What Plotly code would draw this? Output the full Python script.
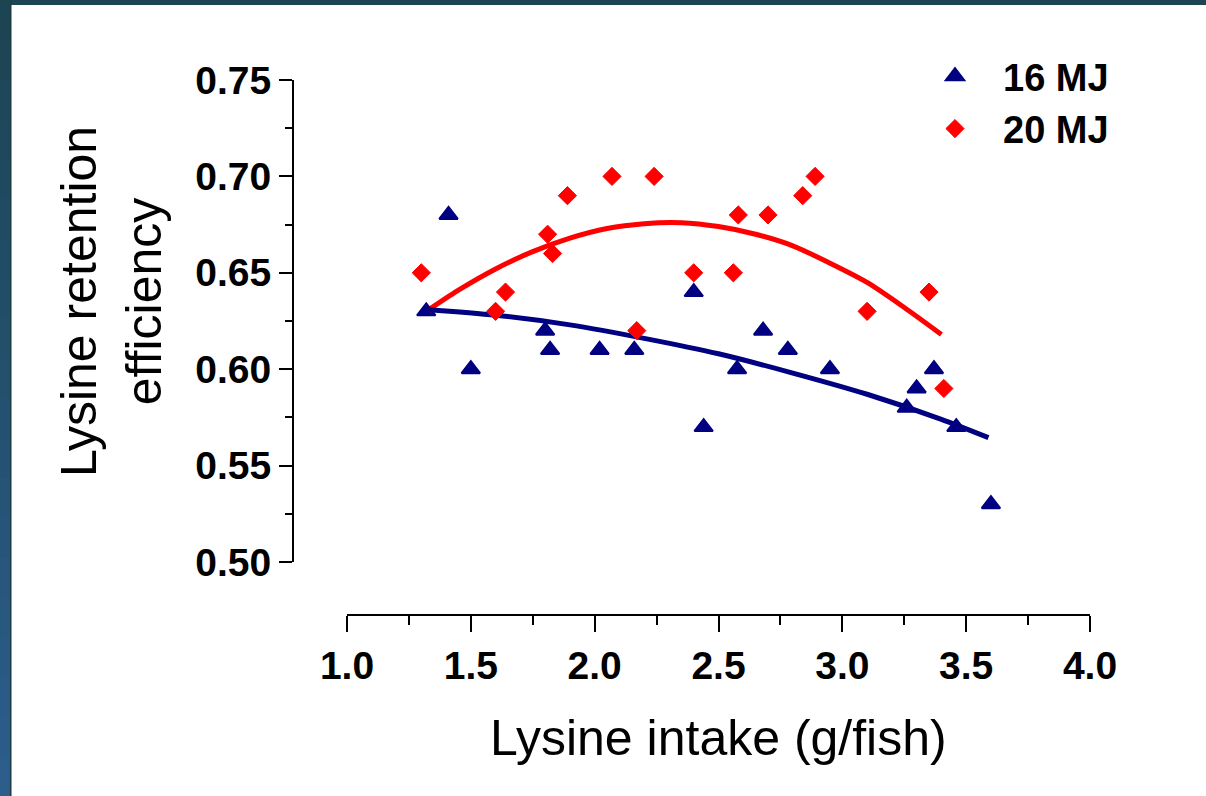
import plotly.graph_objects as go

# ---- data ----
x_16 = [1.32, 1.41, 1.50, 1.80, 1.82, 2.02, 2.16, 2.40, 2.44, 2.575, 2.68, 2.78, 2.95, 3.26, 3.30, 3.37, 3.46, 3.60]
y_16 = [0.63, 0.68, 0.60, 0.62, 0.61, 0.61, 0.61, 0.64, 0.57, 0.60, 0.62, 0.61, 0.60, 0.58, 0.59, 0.60, 0.57, 0.53]
x_20 = [1.30, 1.60, 1.64, 1.81, 1.83, 1.89, 2.07, 2.17, 2.24, 2.40, 2.56, 2.58, 2.70, 2.84, 2.89, 3.10, 3.35, 3.41]
y_20 = [0.65, 0.63, 0.64, 0.67, 0.66, 0.69, 0.70, 0.62, 0.70, 0.65, 0.65, 0.68, 0.68, 0.69, 0.70, 0.63, 0.64, 0.59]

# fitted curves
fit_x_16 = [1.32, 1.60, 1.90, 2.20, 2.50, 2.80, 3.10, 3.40, 3.59]
fit_y_16 = [0.631, 0.628, 0.623, 0.616, 0.608, 0.598, 0.587, 0.574, 0.5645]
fit_x_20 = [1.32, 1.45, 1.60, 1.75, 1.90, 2.05, 2.20, 2.35, 2.50, 2.65, 2.80, 2.95, 3.10, 3.25, 3.40]
fit_y_20 = [0.630, 0.641, 0.652, 0.661, 0.668, 0.673, 0.6755, 0.676, 0.674, 0.670, 0.664, 0.655, 0.645, 0.632, 0.618]

series_names = ["16 MJ", "20 MJ"]
x_title = "Lysine intake (g/fish)"
y_title = "Lysine retention<br>efficiency"

NAVY = "#000080"
RED = "#ff0000"
FONT = "Liberation Sans, Arial, sans-serif"

W, H = 1206, 796
L, R, T, B = 293, 1090, 80, 615  # plot area in pixels
PW, PH = R - L, B - T


def px(p):
    return (p - L) / PW


def py(q):
    return (B - q) / PH


fig = go.Figure()

fig.add_trace(go.Scatter(x=fit_x_20, y=fit_y_20, mode="lines",
                         line=dict(color=RED, width=5, shape="spline", smoothing=0.8),
                         showlegend=False, hoverinfo="skip", cliponaxis=False))
fig.add_trace(go.Scatter(x=fit_x_16, y=fit_y_16, mode="lines",
                         line=dict(color=NAVY, width=5, shape="spline", smoothing=0.8),
                         showlegend=False, hoverinfo="skip", cliponaxis=False))
fig.add_trace(go.Scatter(x=x_16, y=y_16, mode="markers", name=series_names[0],
                         marker=dict(symbol="triangle-up", size=16, color=NAVY,
                                     line=dict(color=NAVY, width=2)), cliponaxis=False))
fig.add_trace(go.Scatter(x=x_20, y=y_20, mode="markers", name=series_names[1],
                         marker=dict(symbol="diamond", size=14, color=RED,
                                     line=dict(color=RED, width=1)), cliponaxis=False))

# slide border (decoration)
shapes = []
shapes.append(dict(type="rect", xref="paper", yref="paper", x0=px(0), x1=px(W), y0=py(5), y1=py(0),
                   fillcolor="#1c4453", line_width=0, layer="below"))
n = 20
c0 = (0x1c, 0x44, 0x53)
c1 = (0x2c, 0x5d, 0x8b)
for i in range(n):
    t = i / (n - 1)
    col = "rgb(%d,%d,%d)" % tuple(round(a + (b - a) * t) for a, b in zip(c0, c1))
    shapes.append(dict(type="rect", xref="paper", yref="paper", x0=px(0), x1=px(10),
                       y0=py(min(H, H * (i + 1) / n + 2)), y1=py(H * i / n),
                       fillcolor=col, line_width=0, layer="below"))
shapes.append(dict(type="rect", xref="paper", yref="paper", x0=px(10), x1=px(11.5), y0=py(H), y1=py(0),
                   fillcolor="#1a3a44", line_width=0, layer="below"))

fig.update_layout(
    width=W, height=H,
    margin=dict(l=L, r=W - R, t=T, b=H - B, pad=0),
    paper_bgcolor="white", plot_bgcolor="white",
    font=dict(family=FONT, color="black"),
    shapes=shapes,
    showlegend=True,
    legend=dict(x=px(907), y=py(45), xanchor="left", yanchor="top",
                font=dict(family=FONT, size=38, color="black", weight="bold"),
                bgcolor="rgba(0,0,0,0)", itemwidth=86, tracegroupgap=0),
    xaxis=dict(domain=[px(347), 1], anchor="free", position=0, range=[1.0, 4.0],
               tickmode="linear", tick0=1.0, dtick=0.5, tickformat=".1f",
               showline=True, linecolor="black", linewidth=2, mirror=False,
               ticks="outside", ticklen=16, tickwidth=2, tickcolor="black",
               minor=dict(ticks="outside", ticklen=9, tickwidth=2, tickcolor="black", dtick=0.25, showgrid=False),
               showgrid=False, zeroline=False,
               tickfont=dict(family=FONT, size=39, color="black", weight="bold")),
    yaxis=dict(domain=[py(562), 1], anchor="free", position=0, range=[0.50, 0.75],
               tickmode="linear", tick0=0.5, dtick=0.05, tickformat=".2f",
               showline=True, linecolor="black", linewidth=2, mirror=False,
               ticks="outside", ticklen=13, tickwidth=2, tickcolor="black",
               minor=dict(ticks="outside", ticklen=7, tickwidth=2, tickcolor="black", dtick=0.025, showgrid=False),
               showgrid=False, zeroline=False,
               tickfont=dict(family=FONT, size=39, color="black", weight="bold")),
    annotations=[
        dict(text=x_title, xref="paper", yref="paper", x=px(718), y=py(738), xanchor="center", yanchor="middle",
             showarrow=False, font=dict(family=FONT, size=50, color="black")),
        dict(text=y_title, xref="paper", yref="paper", x=px(111), y=py(302), xanchor="center", yanchor="middle",
             textangle=-90, showarrow=False, align="center", font=dict(family=FONT, size=50, color="black")),
    ],
)

fig.write_html("out.html")
